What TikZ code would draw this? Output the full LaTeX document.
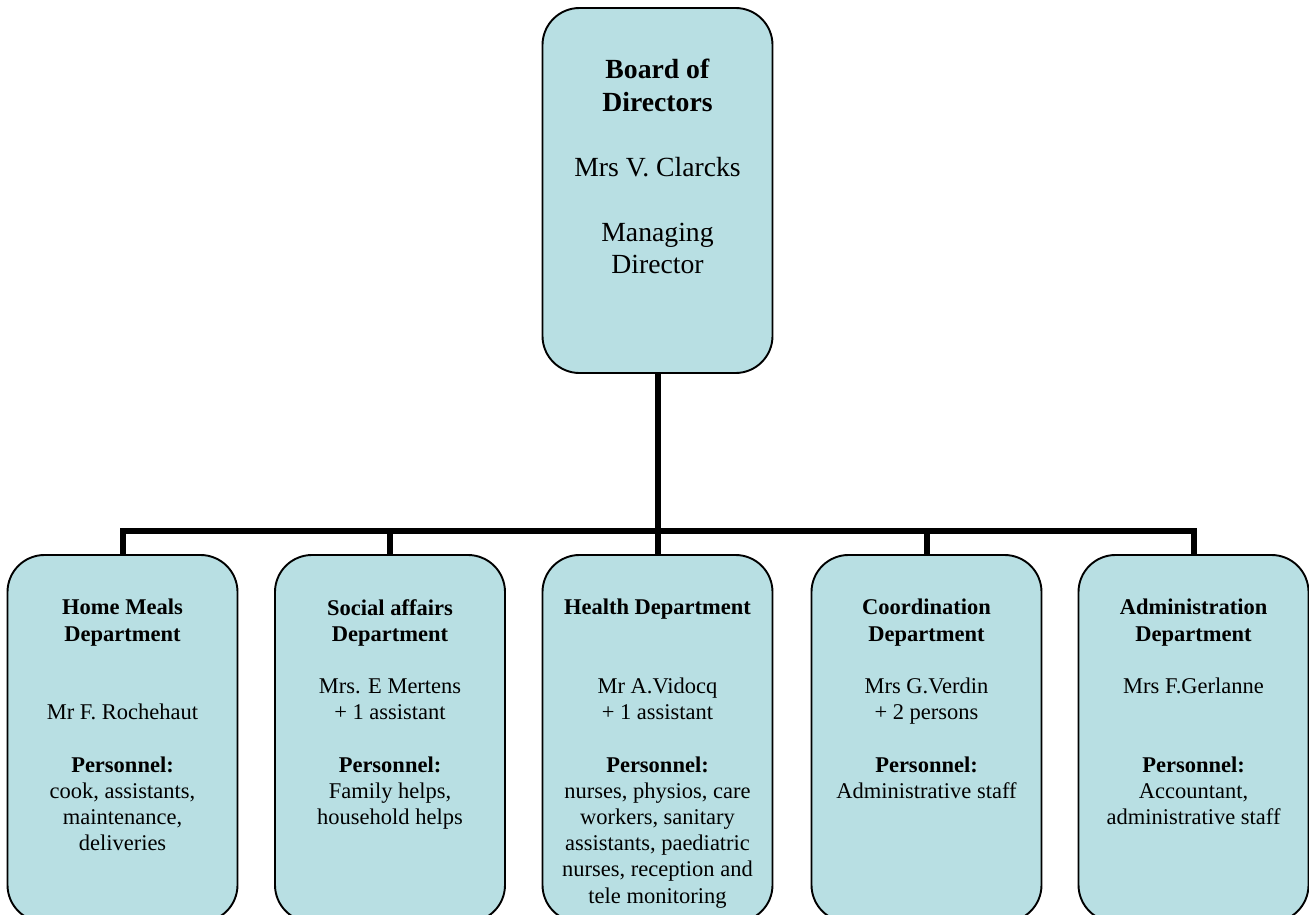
\documentclass[tikz,border=0pt]{standalone}
\usepackage{fontspec}
\setmainfont{Liberation Serif}
\usepackage{xcolor}
\usepackage{tikz}
\usetikzlibrary{positioning}

\definecolor{boxfill}{RGB}{184,223,227}

\begin{document}
\begin{tikzpicture}[x=1pt,y=-1pt,
		orgbox/.style={draw=black, line width=1.9pt, fill=boxfill, rounded corners=37pt, minimum width=230pt, inner sep=0pt},
		toptext/.style={inner sep=0pt, align=center, font=\fontsize{27.7}{32.5}\selectfont},
		depttext/.style={inner sep=0pt, align=center, font=\fontsize{22.5}{26.2}\selectfont},
		link/.style={line width=6pt, line join=miter}]
		\useasboundingbox (0,0) rectangle (1309,915);
		
		%Shape: Rounded Rect [board]
		\node (board) [orgbox, minimum height=365pt] at (657.5,190.5) {};
		%Shape: Rounded Rect [departments]
		\node (meals) [orgbox, minimum height=367pt] at (122.5,738.5) {};
		\node (social) [orgbox, minimum height=367pt] at (390,738.5) {};
		\node (health) [orgbox, minimum height=367pt] at (657.5,738.5) {};
		\node (coord) [orgbox, minimum height=367pt] at (926.5,738.5) {};
		\node (admin) [orgbox, minimum height=367pt] at (1193.5,738.5) {};
		
		%Straight Lines
		\foreach \dept in {meals,social,health,coord,admin}
		\draw [link] (board.south) -- ++(0,157) -| (\dept.north);
		
		% Text Node
		\node (boardtxt) [toptext, below=52pt of board.north] {\textbf{Board of}\\\textbf{Directors}\\[\baselineskip]Mrs V. Clarcks\\[\baselineskip]Managing\\Director};
		% Text Node
		\node (mealstxt) [depttext, below=45pt of meals.north] {\textbf{Home Meals}\\\textbf{Department}\\[2\baselineskip]Mr F. Rochehaut\\[\baselineskip]\textbf{Personnel:}\\cook, assistants,\\maintenance,\\deliveries};
		% Text Node
		\node (socialtxt) [depttext, below=45pt of social.north] {\textbf{Social affairs}\\\textbf{Department}\\[\baselineskip]Mrs. E Mertens\\+ 1 assistant\\[\baselineskip]\textbf{Personnel:}\\Family helps,\\household helps};
		% Text Node
		\node (healthtxt) [depttext, below=45pt of health.north] {\textbf{Health Department}\\[2\baselineskip]Mr A.Vidocq\\+ 1 assistant\\[\baselineskip]\textbf{Personnel:}\\nurses, physios, care\\workers, sanitary\\assistants, paediatric\\nurses, reception and\\tele monitoring};
		% Text Node
		\node (coordtxt) [depttext, below=45pt of coord.north] {\textbf{Coordination}\\\textbf{Department}\\[\baselineskip]Mrs G.Verdin\\+ 2 persons\\[\baselineskip]\textbf{Personnel:}\\Administrative staff};
		% Text Node
		\node (admintxt) [depttext, below=45pt of admin.north] {\textbf{Administration}\\\textbf{Department}\\[\baselineskip]Mrs F.Gerlanne\\[2\baselineskip]\textbf{Personnel:}\\Accountant,\\administrative staff};
		
	\end{tikzpicture}
\end{document}
